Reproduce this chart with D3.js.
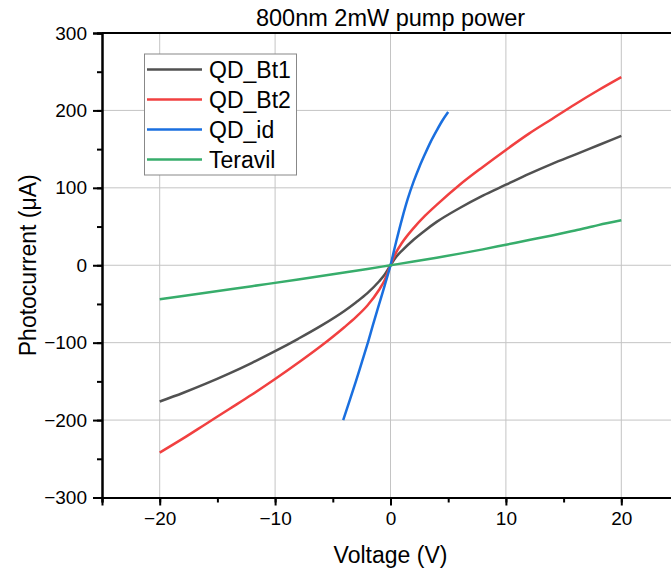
<!DOCTYPE html>
<html>
<head>
<meta charset="utf-8">
<script src="https://cdn.jsdelivr.net/npm/d3@7"></script>
<style>
  body { margin: 0; background: #fff; }
  svg { display: block; font-family: "Liberation Sans", Arial, sans-serif; }
</style>
</head>
<body>
<div id="chart"></div>
<script>
// Chart data
//

var title = "800nm 2mW pump power";
var x_label = "Voltage (V)";
var y_label = "Photocurrent (\u03bcA)";

var x_ticks = [-20, -10, 0, 10, 20];
var y_ticks = [-300, -200, -100, 0, 100, 200, 300];

var names = ["QD_Bt1", "QD_Bt2", "QD_id", "Teravil"];
var colors = ["#515151", "#f14040", "#1a6fdf", "#37ad6b"];

var bt1_v = [-20, -18, -16, -14, -12, -10, -8, -6, -4, -3, -2, -1, -0.5, 0,
             0.5, 1, 2, 3, 4, 6, 8, 10, 12, 14, 16, 18, 20];
var bt1_i = [-176, -165, -153, -140, -126, -111, -95, -78, -59, -48, -36, -21, -12, 0,
             11, 19, 33, 45, 56, 74, 90, 104, 118, 131, 143, 155, 167];

var bt2_v = [-20, -18, -16, -14, -12, -10, -8, -6, -4, -3, -2, -1, -0.5, 0,
             0.5, 1, 2, 3, 4, 6, 8, 10, 12, 14, 16, 18, 20];
var bt2_i = [-242, -224, -205, -186, -167, -147, -126, -104, -80, -67, -52, -32, -19, 0,
             17, 29, 48, 64, 78, 104, 127, 149, 170, 189, 208, 226, 243];

var id_v = [-4.1, -3.5, -3, -2.5, -2, -1.5, -1, -0.5, 0,
            0.5, 1, 1.5, 2, 2.5, 3, 3.5, 4, 4.5, 5];
var id_i = [-200, -173, -150, -126, -102, -76, -51, -26, 0,
            31, 60, 86, 108, 127, 144, 160, 174, 187, 198];

var ter_v = [-20, -16, -12, -8, -4, -2, 0, 2, 4, 6, 8, 10, 12, 14, 16, 17.5, 18, 20];
var ter_i = [-44, -35.5, -27, -18.5, -9.5, -4.8, 0, 4.8, 9.8, 15, 20.5, 26.5, 32.5, 38.5, 45, 50, 51.8, 58];

// Helper functions
//

function zip_points(xs, ys) {
  // pairs up two arrays into [{x, y}]
  return xs.map(function(x, i) { return { x: x, y: ys[i] }; });
}

var series = [
  zip_points(bt1_v, bt1_i),
  zip_points(bt2_v, bt2_i),
  zip_points(id_v, id_i),
  zip_points(ter_v, ter_i)
];

// Layout
//

var width = 671, height = 576;
var plot_left = 102, plot_right = 679, plot_top = 33, plot_bottom = 497.5;

var svg = d3.select("#chart").append("svg")
  .attr("width", width)
  .attr("height", height);

var x = d3.scaleLinear().domain([-25, 25]).range([plot_left, plot_right]);
var y = d3.scaleLinear().domain([-300, 300]).range([plot_bottom, plot_top]);

// grid lines
var grid = svg.append("g");
grid.selectAll("line.vg")
  .data(x_ticks)
  .enter().append("line")
  .attr("x1", function(d) { return x(d); })
  .attr("x2", function(d) { return x(d); })
  .attr("y1", plot_top).attr("y2", plot_bottom)
  .attr("stroke", "#c4c4c4").attr("stroke-width", 1);
grid.selectAll("line.hg")
  .data(y_ticks.filter(function(d) { return d > -300 && d < 300; }))
  .enter().append("line")
  .attr("x1", plot_left).attr("x2", plot_right)
  .attr("y1", function(d) { return y(d); })
  .attr("y2", function(d) { return y(d); })
  .attr("stroke", "#c4c4c4").attr("stroke-width", 1);

// curves
var line = d3.line()
  .x(function(d) { return x(d.x); })
  .y(function(d) { return y(d.y); })
  .curve(d3.curveMonotoneX);

svg.append("g").selectAll("path")
  .data(series)
  .enter().append("path")
  .attr("d", line)
  .attr("fill", "none")
  .attr("stroke", function(d, i) { return colors[i]; })
  .attr("stroke-width", 2.5);

// axes
var x_axis = d3.axisBottom(x).tickValues(x_ticks).tickSize(8).tickPadding(6)
  .tickFormat(d3.format("d"));
var x_minor = d3.axisBottom(x).tickValues(d3.range(-25, 26, 5)).tickSize(5).tickFormat("");
var y_axis = d3.axisLeft(y).tickValues(y_ticks).tickSize(9).tickPadding(6)
  .tickFormat(d3.format("d"));
var y_minor = d3.axisLeft(y).tickValues(d3.range(-300, 301, 50)).tickSize(5).tickFormat("");

function style_axis(g) {
  g.attr("font-size", 19).attr("font-family", "Liberation Sans, Arial, sans-serif");
  g.select(".domain").attr("stroke", "#000").attr("stroke-width", 2);
  g.selectAll(".tick line").attr("stroke", "#000").attr("stroke-width", 2);
  g.selectAll("text").attr("fill", "#000");
}

svg.append("g").attr("transform", "translate(0," + plot_bottom + ")").call(x_minor).call(style_axis);
svg.append("g").attr("transform", "translate(0," + plot_bottom + ")").call(x_axis).call(style_axis);
svg.append("g").attr("transform", "translate(" + plot_left + ",0)").call(y_minor).call(style_axis);
svg.append("g").attr("transform", "translate(" + plot_left + ",0)").call(y_axis).call(style_axis);

// top frame
svg.append("line")
  .attr("x1", plot_left).attr("x2", plot_right)
  .attr("y1", plot_top).attr("y2", plot_top)
  .attr("stroke", "#000").attr("stroke-width", 2);

// titles
svg.append("text")
  .attr("x", x(0)).attr("y", 26)
  .attr("text-anchor", "middle")
  .attr("font-size", 23.5)
  .text(title);

svg.append("text")
  .attr("x", x(0)).attr("y", 563)
  .attr("text-anchor", "middle")
  .attr("font-size", 23)
  .text(x_label);

svg.append("text")
  .attr("transform", "translate(36," + y(0) + ") rotate(-90)")
  .attr("text-anchor", "middle")
  .attr("font-size", 23)
  .text(y_label);

// legend
var legend = svg.append("g");
legend.append("rect")
  .attr("x", 144.5).attr("y", 54)
  .attr("width", 152).attr("height", 121)
  .attr("fill", "#fff")
  .attr("stroke", "#888").attr("stroke-width", 1);

var rows = legend.selectAll("g.row")
  .data(names)
  .enter().append("g")
  .attr("transform", function(d, i) { return "translate(0," + (69.5 + i * 30) + ")"; });

rows.append("line")
  .attr("x1", 147).attr("x2", 202)
  .attr("stroke", function(d, i) { return colors[i]; })
  .attr("stroke-width", 2.5);

rows.append("text")
  .attr("x", 209).attr("y", 8)
  .attr("font-size", 23)
  .text(function(d) { return d; });
</script>
</body>
</html>
